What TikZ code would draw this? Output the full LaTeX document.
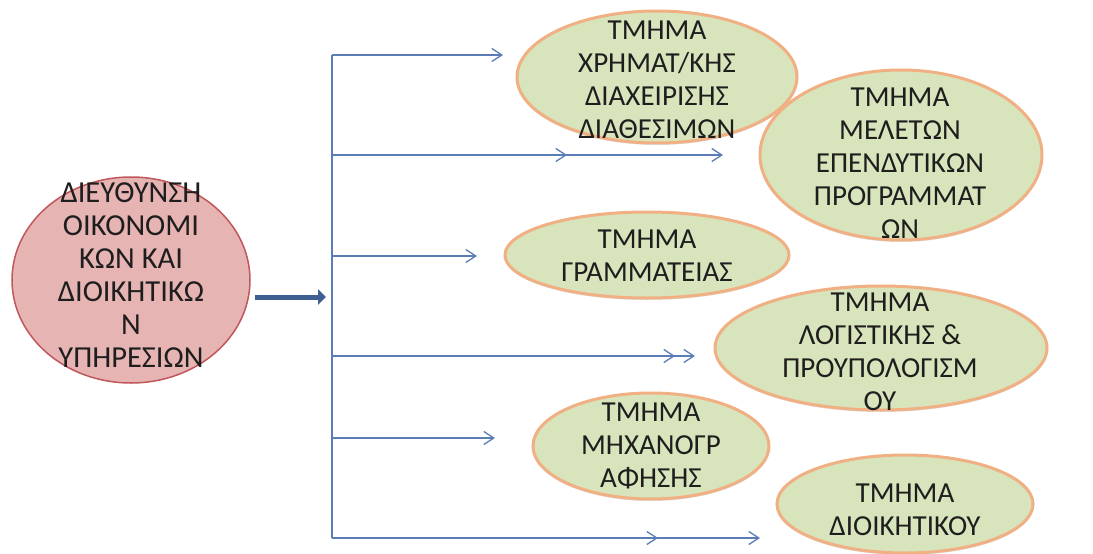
\documentclass[tikz,border=0pt]{standalone}
\usepackage{fontspec}
\setmainfont{Carlito}
\usetikzlibrary{arrows.meta,shapes.geometric,shadows}
\definecolor{bossfill}{HTML}{E6B4B3}
\definecolor{bossline}{HTML}{C0575A}
\definecolor{deptfill}{HTML}{D8E4BC}
\definecolor{deptline}{HTML}{F0B083}
\definecolor{linkblue}{HTML}{5A7DB5}
\definecolor{bigblue}{HTML}{3E5F92}
\definecolor{ink}{HTML}{1E1E1E}

\begin{document}
\begin{tikzpicture}[x=1pt,y=-1pt,>={Straight Barb[length=10pt,width=13pt]},
  boss/.style={ellipse,draw=bossline,line width=1.5pt,fill=bossfill,inner sep=0pt},
  dept/.style={ellipse,draw=deptline,line width=3pt,fill=deptfill,inner sep=0pt,
    drop shadow={shadow xshift=0pt,shadow yshift=-2pt,opacity=0.25}},
  lbl/.style={align=center,inner sep=0pt,text=ink,font=\fontsize{29}{33}\selectfont},
  link/.style={draw=linkblue,line width=1.3pt}]
\useasboundingbox[fill=white] (0,0) rectangle (1093,554);
%
\node[boss,minimum width=238,minimum height=206] (z) at (131,280) {};
\node[lbl,font=\fontsize{30.5}{33}\selectfont] (zt) at (131,275) {ΔΙΕΥΘΥΝΣΗ\\ΟΙΚΟΝΟΜΙ\\ΚΩΝ ΚΑΙ\\ΔΙΟΙΚΗΤΙΚΩ\\Ν\\ΥΠΗΡΕΣΙΩΝ};
%
\node[dept,minimum width=280,minimum height=132] (a) at (657,77) {};
\node[lbl] (at) at (657,80) {ΤΜΗΜΑ\\ΧΡΗΜΑΤ/ΚΗΣ\\ΔΙΑΧΕΙΡΙΣΗΣ\\ΔΙΑΘΕΣΙΜΩΝ};
\node[dept,minimum width=282,minimum height=170] (b) at (901,155) {};
\node[lbl] (bt) at (900,163) {ΤΜΗΜΑ\\ΜΕΛΕΤΩΝ\\ΕΠΕΝΔΥΤΙΚΩΝ\\ΠΡΟΓΡΑΜΜΑΤ\\ΩΝ};
\node[dept,minimum width=284,minimum height=86] (c) at (647,255) {};
\node[lbl] (ct) at (647,256) {ΤΜΗΜΑ\\ΓΡΑΜΜΑΤΕΙΑΣ};
\node[dept,minimum width=332,minimum height=124] (d) at (881,348) {};
\node[lbl] (dt) at (880,352) {ΤΜΗΜΑ\\ΛΟΓΙΣΤΙΚΗΣ \&\\ΠΡΟΥΠΟΛΟΓΙΣΜ\\ΟΥ};
\node[dept,minimum width=236,minimum height=106] (e) at (651,446) {};
\node[lbl] (et) at (651,446) {ΤΜΗΜΑ\\ΜΗΧΑΝΟΓΡ\\ΑΦΗΣΗΣ};
\node[dept,minimum width=256,minimum height=98] (f) at (905,504) {};
\node[lbl] (ft) at (905,510) {ΤΜΗΜΑ\\ΔΙΟΙΚΗΤΙΚΟΥ};
%
\coordinate (ga) at (255,297);
\coordinate (gb) at (326,297);
\draw[bigblue,line width=5pt,-{Triangle[length=8pt,width=15pt]}] (ga) to (gb);
%
\coordinate (t1) at (332,55);
\coordinate (t2) at (332,155);
\coordinate (t3) at (332,256);
\coordinate (t4) at (332,356);
\coordinate (t5) at (332,438);
\coordinate (t6) at (332,538);
\coordinate (h1) at (503,55);
\coordinate (h2a) at (567,155);
\coordinate (h2) at (723,155);
\coordinate (h3) at (477,256);
\coordinate (h4a) at (675,356);
\coordinate (h4) at (695,356);
\coordinate (h5) at (495,438);
\coordinate (h6a) at (658,538);
\coordinate (h6) at (760,538);
\draw[link] (t1) to (t6);
\draw[link,->] (t1) to (h1);
\draw[link,->] (t2) to (h2a);
\draw[link,->] (t2) to (h2);
\draw[link,->] (t3) to (h3);
\draw[link,->] (t4) to (h4a);
\draw[link,->] (t4) to (h4);
\draw[link,->] (t5) to (h5);
\draw[link,->] (t6) to (h6a);
\draw[link,->] (t6) to (h6);
\end{tikzpicture}
\end{document}
